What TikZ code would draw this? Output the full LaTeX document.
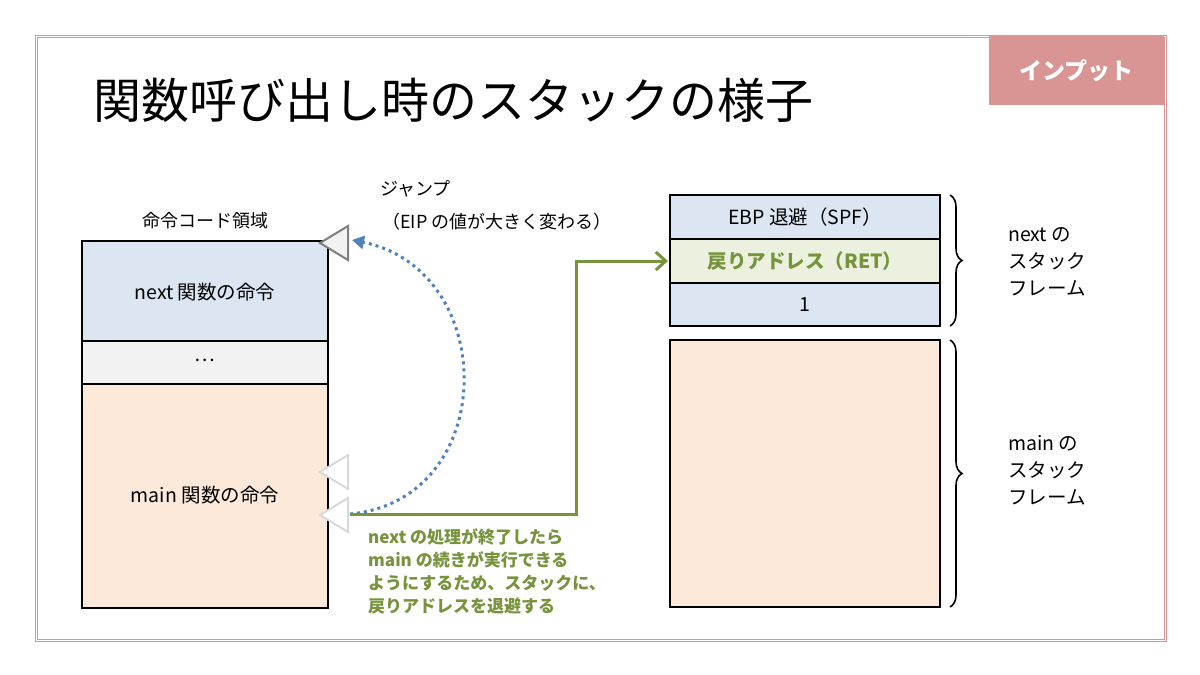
\documentclass[tikz,border=0pt]{standalone}
\usepackage{fontspec}
\setmainfont{Noto Sans CJK JP}
\usetikzlibrary{arrows.meta,decorations.pathreplacing}
\definecolor{frm}{HTML}{D99594}
\definecolor{bl}{HTML}{DCE6F2}
\definecolor{gr}{HTML}{F2F2F2}
\definecolor{pk}{HTML}{FDE9D9}
\definecolor{gn}{HTML}{EBF1DE}
\definecolor{gtx}{HTML}{77933C}
\definecolor{blu}{HTML}{4F81BD}
\begin{document}
\begin{tikzpicture}[x=1pt,y=-1pt,
 box/.style={draw=black,line width=2pt},
 txt/.style={font=\fontsize{19.5}{22}\selectfont},
 gtxt/.style={font=\fontsize{17}{20}\selectfont\bfseries,text=gtx,anchor=west,inner sep=0},
 brace/.style={decorate,decoration={brace,amplitude=12pt},line width=1.6pt}]
\useasboundingbox (0,0) rectangle (1200,675);
\fill[white] (0,0) rectangle (1200,675);
\draw[frm,line width=3pt] (36,36) rectangle (1165,640);
\draw[white,line width=0.8pt] (36,36) rectangle (1165,640);
\node[fill=frm,minimum width=175pt,minimum height=69pt,anchor=north east,text=white,font=\fontsize{23}{25}\selectfont\bfseries] (badge) at (1164,36) {インプット};
\node[anchor=west,inner sep=0,font=\fontsize{48}{52}\selectfont] (title) at (93,100) {関数呼び出し時のスタックの様子};
% left column
\node[font=\fontsize{18}{20}\selectfont] (lbl) at (205,221) {命令コード領域};
\draw[box,fill=bl] (82,241) rectangle (328,341);
\draw[box,fill=gr] (82,341) rectangle (328,384);
\draw[box,fill=pk] (82,384) rectangle (328,608);
\node[txt] (nx) at (205,292) {next 関数の命令};
\node[txt] (dt) at (205,360) {…};
\node[txt] (mn) at (205,495) {main 関数の命令};
% triangles
\draw[gray,fill=gr,line width=2pt] (320,243) -- (348,226) -- (348,260) -- cycle;
\draw[black!15,fill=white,line width=2pt] (320,472) -- (348,455) -- (348,489) -- cycle;
\draw[black!15,fill=white,line width=2pt] (320,515) -- (348,498) -- (348,532) -- cycle;
\coordinate (js) at (350,514);
\coordinate (je) at (352,240);
\draw[blu,line width=3pt,dash pattern=on 3pt off 4pt,-{Triangle[length=12pt,width=13pt]}] (js) .. controls (500,500) and (500,270) .. (je);
\node[anchor=west,inner sep=0,font=\fontsize{18}{20}\selectfont] (jl) at (380,189) {ジャンプ};
\node[anchor=west,inner sep=0,font=\fontsize{18}{20}\selectfont] (jl2) at (382,222) {（EIP の値が大きく変わる）};
% right stack
\draw[box,fill=bl] (670,195) rectangle (940,239);
\draw[box,fill=gn] (670,239) rectangle (940,283);
\draw[box,fill=bl] (670,283) rectangle (940,326);
\draw[box,fill=pk] (670,340) rectangle (940,607);
\node[txt] (ebp) at (805,217) {EBP 退避（SPF）};
\node[txt,text=gtx,font=\fontsize{19.5}{22}\selectfont\bfseries] (ret) at (805,261) {戻りアドレス（RET）};
\node[txt] (one) at (805,305) {1};
\coordinate (ge) at (668,261);
\draw[gtx,line width=3pt,-{Straight Barb[length=10pt,width=18pt,line width=3pt]}] (js) -- (576,514) -- (576,261) -- (ge);
\node[gtxt] at (368,537) {next の処理が終了したら};
\node[gtxt] at (368,560) {main の続きが実行できる};
\node[gtxt] at (368,583) {ようにするため、スタックに、};
\node[gtxt] at (368,606) {戻りアドレスを退避する};
% braces
\draw[brace] (950,195) -- (950,326);
\draw[brace] (950,340) -- (950,607);
\node[anchor=west,inner sep=0,align=left,font=\fontsize{19.5}{27}\selectfont] at (1008,262) {next の\\スタック\\フレーム};
\node[anchor=west,inner sep=0,align=left,font=\fontsize{19.5}{27}\selectfont] at (1008,470) {main の\\スタック\\フレーム};
\end{tikzpicture}
\end{document}
